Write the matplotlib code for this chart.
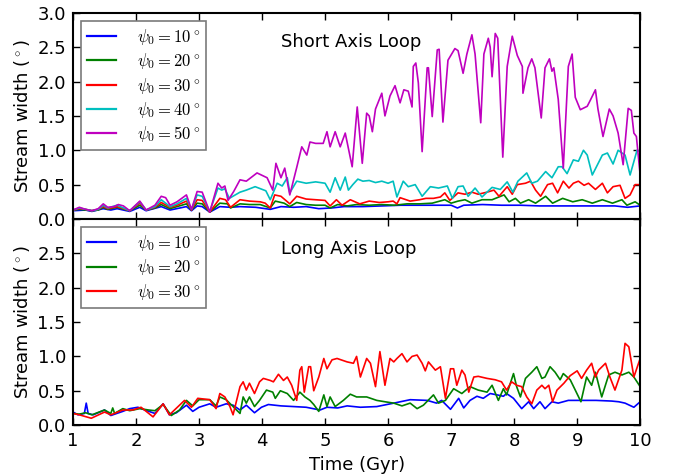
import matplotlib
matplotlib.use('Agg')
import matplotlib.pyplot as plt

plt.rcParams['mathtext.fontset'] = 'cm'
plt.rcParams['font.family'] = 'DejaVu Sans'
plt.rcParams['xtick.direction'] = 'in'
plt.rcParams['ytick.direction'] = 'in'
plt.rcParams['xtick.top'] = True
plt.rcParams['ytick.right'] = True

# ---- Short axis loop (top panel) ----
t_s10 = [1.0, 1.2, 1.3, 1.48, 1.6, 1.7, 1.9, 2.06, 2.16, 2.4, 2.54, 2.8, 2.88, 2.97, 3.05, 3.17,
         3.33, 3.5, 3.65, 3.9, 4.13, 4.3, 4.5, 4.7, 4.9, 5.1, 5.3, 5.6, 5.9, 6.2, 6.5, 6.8,
         7.0, 7.1, 7.2, 7.5, 7.8, 8.1, 8.4, 8.7, 9.0, 9.3, 9.6, 9.8, 10.0]
w_s10 = [0.12, 0.13, 0.11, 0.15, 0.13, 0.15, 0.11, 0.17, 0.12, 0.18, 0.13, 0.18, 0.12, 0.19, 0.18, 0.10,
         0.18, 0.17, 0.18, 0.17, 0.14, 0.18, 0.17, 0.18, 0.15, 0.16, 0.18, 0.18, 0.19, 0.20, 0.20, 0.20,
         0.20, 0.16, 0.20, 0.21, 0.20, 0.20, 0.19, 0.19, 0.19, 0.19, 0.19, 0.17, 0.19]

t_s20 = [1.0, 1.1, 1.2, 1.3, 1.4, 1.48, 1.55, 1.7, 1.9, 2.06, 2.16, 2.3, 2.4, 2.54, 2.65, 2.8,
         2.88, 2.97, 3.05, 3.17, 3.33, 3.45, 3.5, 3.65, 3.8, 3.97, 4.13, 4.21, 4.35, 4.44, 4.55,
         4.7, 4.85, 5.0, 5.08, 5.2, 5.35, 5.5, 5.7, 5.9, 6.1, 6.3, 6.5, 6.7, 6.9, 7.0, 7.11,
         7.22, 7.33, 7.49, 7.65, 7.84, 7.92, 8.02, 8.1, 8.23, 8.34, 8.5, 8.61, 8.77, 8.93, 9.08,
         9.24, 9.4, 9.56, 9.71, 9.79, 9.92, 10.0]
w_s20 = [0.13, 0.14, 0.13, 0.12, 0.13, 0.17, 0.14, 0.17, 0.12, 0.20, 0.13, 0.16, 0.21, 0.15, 0.18, 0.22,
         0.13, 0.23, 0.22, 0.10, 0.23, 0.22, 0.16, 0.22, 0.21, 0.21, 0.16, 0.26, 0.23, 0.18, 0.24,
         0.21, 0.20, 0.20, 0.16, 0.21, 0.19, 0.21, 0.20, 0.21, 0.20, 0.22, 0.22, 0.23, 0.28, 0.23, 0.26,
         0.28, 0.23, 0.28, 0.28, 0.35, 0.25, 0.30, 0.23, 0.28, 0.23, 0.33, 0.23, 0.30, 0.25, 0.28,
         0.23, 0.28, 0.23, 0.28, 0.20, 0.25, 0.20]

t_s30 = [1.0, 1.1, 1.2, 1.3, 1.4, 1.48, 1.55, 1.7, 1.9, 2.06, 2.16, 2.3, 2.4, 2.54, 2.65, 2.8,
         2.88, 2.97, 3.05, 3.17, 3.33, 3.42, 3.5, 3.65, 3.8, 3.97, 4.05, 4.13, 4.2, 4.3, 4.44,
         4.55, 4.7, 4.85, 5.0, 5.08, 5.18, 5.27, 5.4, 5.55, 5.7, 5.86, 6.0, 6.08, 6.14, 6.19,
         6.35, 6.5, 6.6, 6.72, 6.83, 6.9, 6.98, 7.11, 7.22, 7.33, 7.43, 7.57, 7.68, 7.76, 7.89,
         7.97, 8.05, 8.18, 8.26, 8.34, 8.42, 8.53, 8.61, 8.69, 8.78, 8.87, 8.94, 9.02, 9.11,
         9.18, 9.29, 9.4, 9.48, 9.57, 9.68, 9.76, 9.84, 9.92, 10.0]
w_s30 = [0.13, 0.15, 0.14, 0.12, 0.14, 0.18, 0.15, 0.18, 0.12, 0.23, 0.13, 0.17, 0.24, 0.17, 0.20, 0.26,
         0.13, 0.28, 0.27, 0.10, 0.30, 0.28, 0.17, 0.28, 0.26, 0.25, 0.23, 0.16, 0.35, 0.33, 0.22,
         0.33, 0.29, 0.28, 0.27, 0.19, 0.28, 0.20, 0.28, 0.22, 0.26, 0.24, 0.25, 0.26, 0.22, 0.31,
         0.26, 0.28, 0.30, 0.30, 0.32, 0.38, 0.27, 0.38, 0.36, 0.39, 0.36, 0.39, 0.42, 0.33, 0.47,
         0.36, 0.50, 0.52, 0.55, 0.42, 0.33, 0.50, 0.52, 0.38, 0.55, 0.45, 0.52, 0.55, 0.49,
         0.52, 0.43, 0.52, 0.38, 0.47, 0.49, 0.30, 0.35, 0.50, 0.50]

t_s40 = [1.0, 1.1, 1.2, 1.3, 1.4, 1.48, 1.55, 1.7, 1.9, 2.06, 2.16, 2.3, 2.4, 2.54, 2.65, 2.8,
         2.88, 2.97, 3.05, 3.17, 3.3, 3.36, 3.41, 3.48, 3.65, 3.75, 3.89, 4.06, 4.13, 4.24, 4.32,
         4.4, 4.44, 4.55, 4.7, 4.85, 5.0, 5.08, 5.16, 5.24, 5.32, 5.37, 5.44, 5.52, 5.6, 5.7,
         5.8, 5.9, 6.0, 6.08, 6.14, 6.24, 6.32, 6.43, 6.54, 6.67, 6.8, 6.94, 7.02, 7.11, 7.19,
         7.27, 7.38, 7.49, 7.65, 7.78, 7.89, 7.98, 8.06, 8.2, 8.28, 8.37, 8.5, 8.6, 8.7, 8.76,
         8.84, 8.94, 9.02, 9.1, 9.16, 9.24, 9.4, 9.48, 9.57, 9.65, 9.76, 9.84, 9.95, 10.0]
w_s40 = [0.13, 0.16, 0.14, 0.12, 0.14, 0.20, 0.16, 0.20, 0.12, 0.25, 0.13, 0.18, 0.28, 0.18, 0.22, 0.30,
         0.14, 0.35, 0.33, 0.11, 0.45, 0.42, 0.44, 0.30, 0.39, 0.42, 0.47, 0.41, 0.28, 0.52, 0.48,
         0.60, 0.38, 0.55, 0.52, 0.54, 0.52, 0.39, 0.60, 0.42, 0.61, 0.42, 0.50, 0.58, 0.55, 0.56,
         0.53, 0.55, 0.52, 0.55, 0.32, 0.55, 0.47, 0.50, 0.33, 0.47, 0.45, 0.48, 0.30, 0.47, 0.48,
         0.33, 0.45, 0.32, 0.46, 0.43, 0.54, 0.39, 0.55, 0.67, 0.52, 0.55, 0.69, 0.60, 0.76, 0.76,
         0.66, 0.86, 0.84, 1.00, 0.93, 0.64, 0.93, 0.96, 0.80, 1.00, 0.93, 0.64, 1.00, 0.98]

t_s50 = [1.0, 1.1, 1.2, 1.3, 1.4, 1.48, 1.55, 1.65, 1.72, 1.8, 1.9, 2.06, 2.16, 2.3, 2.4, 2.47,
         2.54, 2.65, 2.8, 2.88, 2.97, 3.05, 3.17, 3.3, 3.36, 3.41, 3.46, 3.55, 3.65, 3.75, 3.92,
         4.08, 4.17, 4.22, 4.3, 4.36, 4.44, 4.55, 4.63, 4.71, 4.76, 4.85, 4.97, 5.03, 5.08, 5.16,
         5.24, 5.32, 5.43, 5.51, 5.59, 5.66, 5.7, 5.75, 5.8, 5.9, 5.95, 6.03, 6.11, 6.19, 6.25,
         6.32, 6.38, 6.4, 6.44, 6.48, 6.54, 6.62, 6.64, 6.7, 6.78, 6.81, 6.87, 6.95, 7.06, 7.11,
         7.19, 7.25, 7.33, 7.38, 7.47, 7.52, 7.59, 7.62, 7.65, 7.7, 7.74, 7.82, 7.89, 7.97, 8.05,
         8.13, 8.14, 8.22, 8.28, 8.33, 8.43, 8.49, 8.56, 8.6, 8.63, 8.7, 8.78, 8.86, 8.92, 8.97,
         9.05, 9.16, 9.21, 9.29, 9.33, 9.41, 9.51, 9.57, 9.65, 9.73, 9.81, 9.86, 9.9, 9.94, 10.0]
w_s50 = [0.13, 0.17, 0.14, 0.12, 0.15, 0.22, 0.17, 0.18, 0.21, 0.19, 0.12, 0.26, 0.13, 0.20, 0.33, 0.31,
         0.20, 0.25, 0.35, 0.14, 0.40, 0.39, 0.10, 0.52, 0.45, 0.48, 0.27, 0.40, 0.57, 0.55, 0.67,
         0.60, 0.42, 0.81, 0.60, 0.74, 0.35, 0.75, 1.05, 0.93, 1.12, 1.10, 1.10, 1.27, 1.05, 1.27,
         1.05, 1.25, 0.76, 1.63, 0.81, 1.54, 1.50, 1.27, 1.60, 1.83, 1.50, 1.79, 1.94, 1.69, 1.88,
         1.86, 1.63, 2.22, 2.27, 1.98, 0.98, 2.20, 2.20, 1.49, 2.46, 2.47, 1.41, 2.31, 2.48, 2.45,
         2.12, 2.40, 2.68, 2.40, 1.40, 2.40, 2.63, 2.50, 2.07, 2.70, 2.63, 0.90, 2.22, 2.66, 2.38,
         2.22, 1.83, 2.20, 2.33, 2.20, 1.47, 2.20, 2.33, 2.15, 2.20, 1.74, 0.74, 2.22, 2.40, 1.77,
         1.59, 1.64, 1.73, 1.88, 1.60, 1.20, 1.60, 1.50, 1.25, 0.79, 1.61, 1.58, 1.25, 1.20, 0.64]

# ---- Long axis loop (bottom panel) ----
t_l10 = [1.0, 1.08, 1.18, 1.21, 1.24, 1.32, 1.5, 1.6, 1.79, 1.9, 2.03, 2.14, 2.3, 2.43, 2.53, 2.64,
         2.8, 2.9, 3.0, 3.17, 3.27, 3.43, 3.54, 3.65, 3.75, 3.88, 3.99, 4.1, 4.3, 4.5, 4.7, 4.92,
         5.03, 5.2, 5.35, 5.56, 5.82, 6.09, 6.35, 6.62, 6.77, 6.85, 6.99, 7.12, 7.2, 7.3, 7.41,
         7.51, 7.62, 7.73, 7.83, 7.88, 7.99, 8.12, 8.23, 8.31, 8.41, 8.49, 8.6, 8.7, 8.86, 9.0,
         9.3, 9.55, 9.66, 9.76, 9.9, 10.0]
w_l10 = [0.19, 0.15, 0.17, 0.32, 0.17, 0.15, 0.22, 0.14, 0.20, 0.24, 0.26, 0.22, 0.17, 0.31, 0.15, 0.18,
         0.29, 0.20, 0.26, 0.31, 0.26, 0.31, 0.29, 0.22, 0.29, 0.18, 0.26, 0.30, 0.28, 0.27, 0.26, 0.22,
         0.26, 0.25, 0.28, 0.26, 0.27, 0.32, 0.37, 0.36, 0.32, 0.36, 0.23, 0.39, 0.25, 0.36, 0.42,
         0.39, 0.46, 0.44, 0.42, 0.46, 0.39, 0.24, 0.34, 0.24, 0.34, 0.24, 0.34, 0.32, 0.36, 0.36,
         0.36, 0.35, 0.34, 0.32, 0.26, 0.34]

t_l20 = [1.0, 1.1, 1.2, 1.3, 1.5, 1.6, 1.63, 1.66, 1.79, 1.9, 2.06, 2.2, 2.3, 2.43, 2.56, 2.69,
         2.8, 2.9, 3.0, 3.17, 3.27, 3.33, 3.43, 3.54, 3.65, 3.7, 3.75, 3.8, 3.88, 3.96, 4.07,
         4.17, 4.21, 4.29, 4.4, 4.5, 4.6, 4.68, 4.76, 4.82, 4.9, 4.98, 5.03, 5.08, 5.16, 5.29,
         5.4, 5.5, 5.66, 5.82, 5.95, 6.09, 6.22, 6.35, 6.46, 6.56, 6.72, 6.8, 6.91, 7.04, 7.17,
         7.3, 7.43, 7.57, 7.65, 7.75, 7.83, 7.88, 7.99, 8.04, 8.1, 8.18, 8.28, 8.36, 8.44, 8.49,
         8.57, 8.65, 8.73, 8.78, 8.89, 8.97, 9.06, 9.15, 9.23, 9.29, 9.39, 9.5, 9.6, 9.71, 9.82,
         9.9, 10.0]
w_l20 = [0.17, 0.16, 0.18, 0.15, 0.22, 0.17, 0.25, 0.17, 0.24, 0.21, 0.24, 0.22, 0.21, 0.30, 0.14, 0.22,
         0.36, 0.28, 0.37, 0.37, 0.28, 0.41, 0.37, 0.27, 0.17, 0.41, 0.32, 0.41, 0.27, 0.36, 0.51,
         0.48, 0.39, 0.50, 0.46, 0.36, 0.48, 0.41, 0.36, 0.30, 0.20, 0.44, 0.27, 0.41, 0.27, 0.36,
         0.45, 0.41, 0.41, 0.36, 0.34, 0.32, 0.28, 0.32, 0.24, 0.29, 0.44, 0.32, 0.36, 0.53, 0.46,
         0.56, 0.51, 0.48, 0.58, 0.36, 0.53, 0.44, 0.75, 0.56, 0.41, 0.68, 0.77, 0.85, 0.68, 0.70,
         0.85, 0.77, 0.66, 0.75, 0.66, 0.51, 0.34, 0.70, 0.58, 0.77, 0.41, 0.73, 0.77, 0.73, 0.77,
         0.70, 0.56]

t_l30 = [1.0, 1.1, 1.29, 1.5, 1.6, 1.79, 1.95, 2.08, 2.27, 2.43, 2.53, 2.61, 2.77, 2.88, 2.98, 3.17,
         3.27, 3.33, 3.41, 3.49, 3.54, 3.65, 3.7, 3.75, 3.8, 3.88, 3.96, 4.02, 4.13, 4.18, 4.26,
         4.34, 4.4, 4.47, 4.55, 4.6, 4.63, 4.67, 4.74, 4.77, 4.82, 4.9, 4.98, 5.03, 5.11, 5.19,
         5.35, 5.45, 5.5, 5.56, 5.66, 5.72, 5.8, 5.87, 5.95, 6.03, 6.09, 6.14, 6.22, 6.3, 6.38,
         6.46, 6.54, 6.59, 6.64, 6.75, 6.83, 6.91, 6.99, 7.04, 7.09, 7.17, 7.22, 7.28, 7.36, 7.43,
         7.57, 7.7, 7.8, 7.88, 7.96, 8.04, 8.12, 8.2, 8.28, 8.36, 8.44, 8.49, 8.55, 8.61, 8.68,
         8.79, 8.89, 9.0, 9.07, 9.15, 9.23, 9.29, 9.34, 9.45, 9.52, 9.6, 9.71, 9.76, 9.82, 9.9, 10.0]
w_l30 = [0.17, 0.15, 0.10, 0.19, 0.15, 0.22, 0.22, 0.26, 0.12, 0.31, 0.15, 0.22, 0.36, 0.26, 0.39, 0.37,
         0.24, 0.46, 0.41, 0.27, 0.15, 0.56, 0.63, 0.51, 0.61, 0.46, 0.63, 0.68, 0.65, 0.63, 0.74,
         0.65, 0.70, 0.58, 0.36, 0.80, 0.85, 0.48, 0.85, 0.85, 0.50, 0.70, 0.97, 0.82, 0.95, 0.97,
         0.92, 0.90, 1.00, 0.70, 0.97, 0.90, 0.56, 1.07, 0.58, 0.97, 0.92, 0.97, 1.04, 0.92, 1.00,
         1.02, 0.90, 0.79, 0.92, 0.80, 0.85, 0.39, 0.82, 0.82, 0.58, 0.80, 0.73, 0.48, 0.70, 0.71,
         0.68, 0.66, 0.63, 0.51, 0.63, 0.58, 0.56, 0.41, 0.31, 0.51, 0.58, 0.53, 0.58, 0.34, 0.51,
         0.61, 0.72, 0.79, 0.68, 0.80, 0.90, 0.70, 0.80, 0.90, 0.70, 0.51, 0.80, 1.19, 1.14, 0.70, 0.97]

fig = plt.figure(figsize=(6.76, 4.75), dpi=100, facecolor='white')
ax1 = fig.add_axes([0.108, 0.539, 0.839, 0.434])
ax2 = fig.add_axes([0.108, 0.105, 0.839, 0.434], sharex=ax1)

lw = 1.2
ax1.plot(t_s10, w_s10, color='b', lw=lw, label=r'$\psi_0 = 10^\circ$')
ax1.plot(t_s20, w_s20, color='g', lw=lw, label=r'$\psi_0 = 20^\circ$')
ax1.plot(t_s30, w_s30, color='r', lw=lw, label=r'$\psi_0 = 30^\circ$')
ax1.plot(t_s40, w_s40, color='c', lw=lw, label=r'$\psi_0 = 40^\circ$')
ax1.plot(t_s50, w_s50, color='m', lw=lw, label=r'$\psi_0 = 50^\circ$')

ax2.plot(t_l10, w_l10, color='b', lw=lw, label=r'$\psi_0 = 10^\circ$')
ax2.plot(t_l20, w_l20, color='g', lw=lw, label=r'$\psi_0 = 20^\circ$')
ax2.plot(t_l30, w_l30, color='r', lw=lw, label=r'$\psi_0 = 30^\circ$')

for ax in (ax1, ax2):
    ax.set_xlim(1, 10)
    ax.set_ylim(0, 3)
    ax.set_yticks([0, 0.5, 1.0, 1.5, 2.0, 2.5, 3.0])
    ax.set_ylabel(r'Stream width ($^\circ$)', fontsize=13)
    ax.tick_params(labelsize=13, length=5, width=1, pad=5)
    for s in ax.spines.values():
        s.set_linewidth(1.5)
    leg = ax.legend(loc='upper left', fontsize=12, fancybox=False, handlelength=1.7,
                    handletextpad=1.3, labelspacing=0.26, borderaxespad=0.5, borderpad=0.35)
    leg.get_frame().set_edgecolor('0.35')
    leg.get_frame().set_linewidth(1.2)
    for h in leg.get_lines():
        h.set_linewidth(1.6)

ax1.tick_params(labelbottom=False)
ax2.set_yticklabels(['0.0', '0.5', '1.0', '1.5', '2.0', '2.5', ''])
ax2.set_xticks(range(1, 11))
ax2.set_xlabel('Time (Gyr)', fontsize=13)

ax1.text(4.3, 2.58, 'Short Axis Loop', fontsize=13, va='center')
ax2.text(4.3, 2.57, 'Long Axis Loop', fontsize=13, va='center')

fig.savefig('out.png', dpi=100, facecolor='white')
